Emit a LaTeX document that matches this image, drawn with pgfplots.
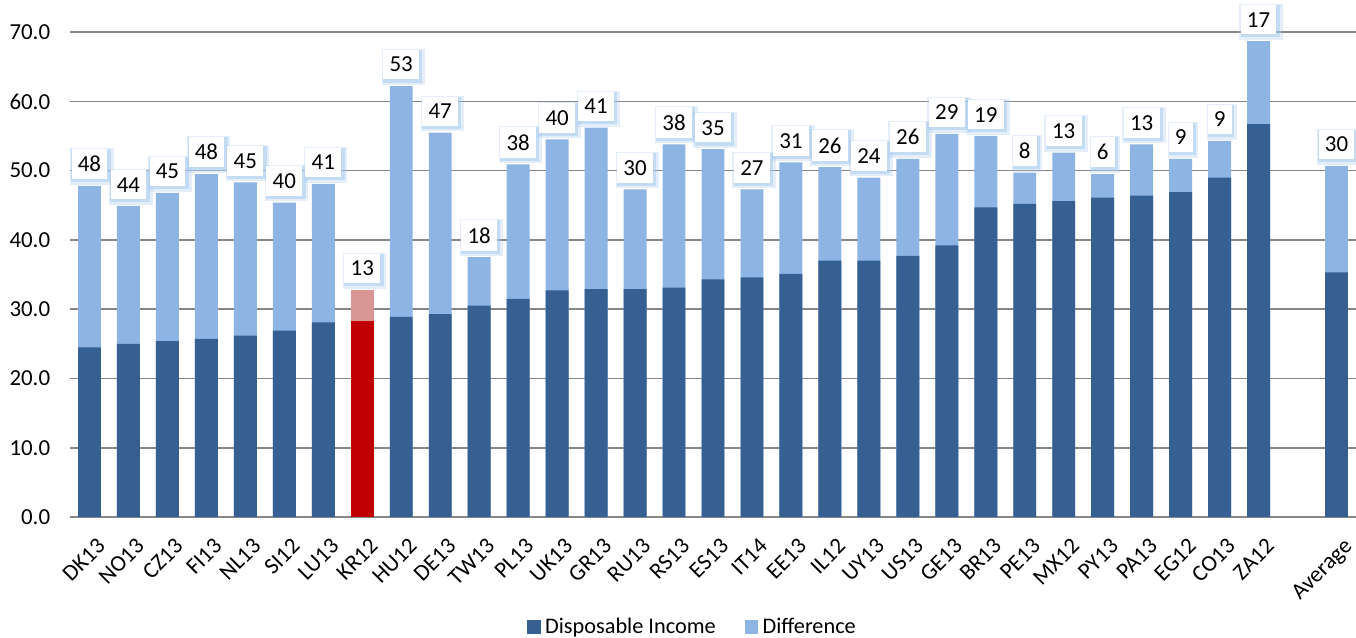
\documentclass[border=0pt]{standalone}
\usepackage{fontspec}
\setmainfont{Carlito}
\usepackage{pgfplots}
\pgfplotsset{compat=1.18}
\usepackage{pgfplotstable}
\usetikzlibrary{shadows,calc}
\definecolor{incblue}{RGB}{55,96,146}
\definecolor{difblue}{RGB}{141,180,226}
\definecolor{krred}{RGB}{192,0,0}
\definecolor{krpink}{RGB}{218,150,148}
\definecolor{glow}{RGB}{165,200,238}
\definecolor{gridgray}{RGB}{134,134,134}

% x: slot on the axis, dark: disposable income, diff: difference, pct: label
\pgfplotstableread{
x  dark  diff  pct
0  24.5  23.3  48
1  25.0  19.9  44
2  25.4  21.4  45
3  25.7  23.8  48
4  26.2  22.1  45
5  26.9  18.5  40
6  28.1  20.0  41
8  28.9  33.3  53
9  29.3  26.2  47
10 30.5   7.0  18
11 31.5  19.4  38
12 32.7  21.8  40
13 32.9  23.3  41
14 32.9  14.4  30
15 33.1  20.7  38
16 34.3  18.8  35
17 34.6  12.7  27
18 35.1  16.1  31
19 37.0  13.5  26
20 37.0  12.0  24
21 37.7  14.0  26
22 39.2  16.1  29
23 44.7  10.3  19
24 45.2   4.5   8
25 45.6   7.0  13
26 46.1   3.4   6
27 46.4   7.4  13
28 46.9   4.8   9
29 49.0   5.3   9
30 56.7  12.0  17
32 35.3  15.4  30
}\maindata
% KR12 is highlighted
\pgfplotstableread{
x  dark  diff  pct
7  28.3  4.5   13
}\krdata

\begin{document}
\begin{tikzpicture}
\begin{axis}[
    name=ax,
    scale only axis,
    width=617.3pt, height=232.8pt,
    ybar, bar width=11pt,
    xmin=-0.5, xmax=32.5, ymin=0, ymax=70,
    xtick={0,...,30,32},
    xticklabels={DK13,NO13,CZ13,FI13,NL13,SI12,LU13,KR12,HU12,DE13,TW13,PL13,UK13,GR13,RU13,RS13,ES13,IT14,EE13,IL12,UY13,US13,GE13,BR13,PE13,MX12,PY13,PA13,EG12,CO13,ZA12,Average},
    ytick={0,10,...,70},
    yticklabel style={/pgf/number format/fixed, /pgf/number format/fixed zerofill,
        /pgf/number format/precision=1, /pgf/number format/assume math mode=true,
        font=\fontsize{11}{13}\selectfont, xshift=-6pt},
    xticklabel style={font=\fontsize{11}{13}\selectfont, xshift=3pt, yshift=-8pt,
        rotate=45, anchor=north east, inner sep=1pt},
    major tick length=0pt,
    axis x line*=bottom, axis y line*=left,
    y axis line style={draw=none},
    x axis line style={draw=gridgray, line width=0.8pt},
    ymajorgrids, grid style={draw=gridgray, line width=0.8pt},
    clip=false,
    legend style={at={(0.485,-0.227)}, anchor=center, legend columns=2, draw=none,
                  font=\fontsize{10.7}{13}\selectfont,
                  /tikz/every even column/.append style={column sep=12pt}},
    legend image code/.code={\fill[#1] (0pt,-3.2pt) rectangle (6.5pt,3.3pt);},
    reverse legend,
    every node near coord/.append style={font=\fontsize{11}{13}\selectfont, text=black,
        fill=white, inner xsep=3pt, inner ysep=3.5pt, anchor=south, yshift=3pt,
        drop shadow={fill=glow, shadow scale=1.22, shadow xshift=0.9pt, shadow yshift=-0.9pt, opacity=0.3},
        drop shadow={fill=glow, shadow scale=1.1, shadow xshift=0.7pt, shadow yshift=-0.7pt, opacity=0.5}},
]
\addplot[fill=difblue, draw=none, bar shift=0pt,
         nodes near coords, point meta=explicit symbolic]
  table[x=x, y expr=\thisrow{dark}+\thisrow{diff}, meta=pct] {\maindata};
\addlegendentry{Difference}
\addplot[fill=incblue, draw=none, bar shift=0pt]
  table[x=x, y=dark] {\maindata};
\addlegendentry{Disposable Income}
\addplot[fill=krpink, draw=none, bar shift=0pt, forget plot,
         nodes near coords, point meta=explicit symbolic]
  table[x=x, y expr=\thisrow{dark}+\thisrow{diff}, meta=pct] {\krdata};
\addplot[fill=krred, draw=none, bar shift=0pt, forget plot]
  table[x=x, y=dark] {\krdata};
\end{axis}
\pgfresetboundingbox
\path ($(ax.south west)+(-33.6pt,-57.6pt)$) rectangle ($(ax.north east)+(0pt,15.4pt)$);
\end{tikzpicture}
\end{document}
